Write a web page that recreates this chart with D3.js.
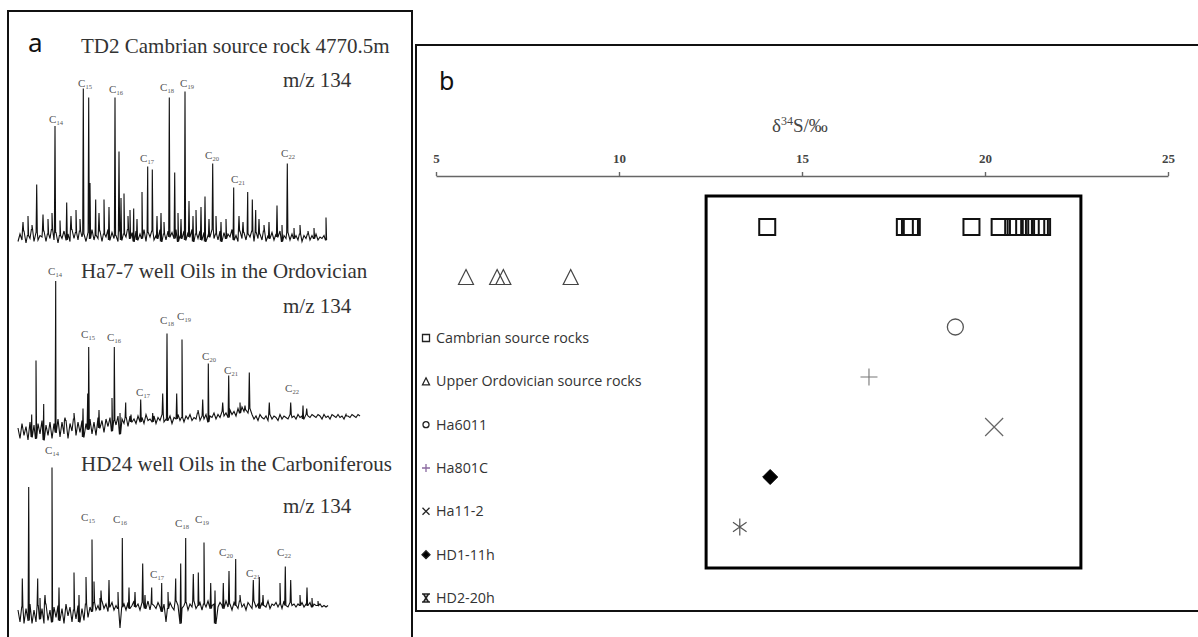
<!DOCTYPE html>
<html>
<head>
<meta charset="utf-8">
<script src="https://cdn.jsdelivr.net/npm/d3@7"></script>
<style>
  body { margin: 0; background: #fff; }
  svg { display: block; }
</style>
</head>
<body>
<script>
// ---------------- panel a : m/z 134 chromatograms ----------------
// peaks: [scan, intensity]  (intensity 100 ~ tallest peak)
var td2Peaks = [[5,14],[10,18],[14,12],[18.7,39],[25,19],[30,16],[34,20],[37,78],[42,15],[48.7,27],[53,18],[58,22],[62,16],
  [65.3,103],[70.7,97],[72,40],[77.7,29],[81,20],[86,29],[91,24],[97,97],[101,61],[103,30],[106,33],[110,18],[112,22],
  [115.7,23],[119,16],[124,34],[129.7,51],[134.3,49],[139,18],[143,20],[146,14],[151.3,97],[156.7,47],[160,20],[163,16],
  [167,101],[171,28],[175,18],[178,22],[183,24],[187,31],[191,16],[194.7,53],[198,18],[203,14],[208,16],[215.7,37],
  [221,18],[225,14],[229.7,34],[234.3,29],[237.7,22],[241,16],[246,12],[251,14],[259,25],[264,12],[269.3,53],[276,10],
  [282,12],[290,8],[296,10],[308,17]];
var td2Noise = [1,6,2,8,0,5,3,9,1,7,2,5,4,8,1,6,3,9,2,7,
  0,5,3,8,2,6,1,9,3,7,2,8,4,6,1,7,3,9,2,5,
  3,8,1,6,4,9,2,7,3,5,1,8,2,6,4,9,3,7,1,8,
  2,6,3,9,1,7,4,8,2,5,3,9,1,6,2,8,4,7,3,9,
  1,5,3,8,2,7,4,9,1,6,3,8,2,7,1,5,4,9,3,6,
  2,8,1,7,3,6,4,9,2,5,1,8,3,7,2,6,4,8,1,7,
  3,6,2,8,1,5,3,7,2,6,4,8,1,5,3,7,2,6,3,5,
  2,6,1,5,3,6,2,5,3,6,2,4,3,5,2];
var td2Labels = [["14",38,83],["15",67,107],["16",98,103],["17",129,57],["18",149,104],["19",169,107],["20",194,59],["21",220,43],["22",270,60]];

var ha77Peaks = [[13.7,9],[18,45],[25.7,16],[37.7,98],[47,7],[56,10],[65,13],[69.7,23],[70.7,54],[81,12],[94,20],[96.3,54],
  [102,10],[107.7,17],[113,9],[122.7,19],[134.7,10],[144.7,23],[149,63],[158.7,23],[164,59],[180,12],[184.7,19],[190.3,43],
  [204.7,17],[210.7,35],[222,17],[227,15],[231.3,37],[251.3,17],[272.7,17],[285,15],[288.7,13],[329,8]];
var ha77Noise = [0,-7,3,-5,1,-8,4,-6,2,-7,3,-4,5,-8,2,-5,4,-7,3,-3,
  6,-6,4,-4,5,-7,3,-2,6,-5,4,-3,5,-6,3,-1,6,-4,4,-5,
  7,0,5,-3,6,1,7,-2,5,2,8,-4,6,3,7,1,8,4,6,3,
  8,4,7,3,9,5,6,4,8,3,7,5,9,4,6,5,8,3,7,6,
  9,5,7,4,8,6,9,5,7,6,10,5,8,6,9,4,8,7,10,6,
  9,7,11,8,10,7,12,9,11,8,13,10,14,11,12,10,13,9,6,8,
  5,9,7,6,8,5,9,6,8,7,5,9,6,8,7,6,9,7,8,6,
  9,7,8,6,9,8,7,9,8,7,9,8,6,9,7,8,6,9,8,7,
  9,7,8,6,9,8,7,9,8,7,9,8];
var ha77Labels = [["14",37,105],["15",70,63],["16",96,61],["17",125,24],["18",149,72],["19",166,75],["20",191,48],["21",213,39],["22",274,27]];

var hd24Peaks = [[4.3,23],[10.7,84],[19.7,23],[22,10],[27,12],[34,97],[41,17],[56,27],[61,12],[68,24],[74,49],[76,21],
  [82,10],[83,15],[91,22],[100,14],[104.3,50],[111,17],[117,14],[124.7,33],[127,12],[133.7,17],[143.7,20],[150,14],
  [157.7,23],[162.7,33],[167.7,50],[175.3,26],[180.3,27],[186,47],[192.7,20],[197,15],[205.3,20],[211,28],[217.7,36],
  [222,12],[235.3,22],[241.3,24],[245,12],[262,20],[267.3,31],[272.7,22],[282,12],[289,17],[294,10],[300,8]];
var hd24Noise = [2,-6,4,-7,3,-5,6,-7,2,-6,5,-4,3,-7,6,-5,2,-6,4,-3,
  5,-5,3,-7,6,-2,4,-6,2,-4,5,-6,3,-5,6,-3,4,1,7,2,
  5,2,8,3,6,1,4,7,2,5,3,-10,4,6,2,7,3,5,8,4,
  6,2,7,4,3,8,2,6,5,3,7,4,1,6,-6,3,7,4,2,8,
  5,-7,3,5,7,2,6,4,8,3,5,7,2,6,4,8,3,5,6,-7,
  4,7,5,3,8,4,6,2,7,5,3,8,4,6,2,7,5,3,8,4,
  6,3,7,5,4,8,3,6,5,7,4,6,3,8,5,4,7,5,6,4,
  6,5,7,4,6,5,7,4,6,5,5,6,4,5,4,5];
var hd24Labels = [["14",34,109],["15",70,64],["16",102,63],["17",139,26],["18",164,60],["19",184,63],["20",208,41],["21",235,27],["22",266,41]];

var traceTitles = ["TD2 Cambrian source rock 4770.5m", "Ha7-7 well Oils in the Ordovician", "HD24 well Oils in the Carboniferous"];
var noiseStep = 2;

// ---------------- panel b : δ34S ----------------
var series = ["Cambrian source rocks", "Upper Ordovician source rocks", "Ha6011", "Ha801C", "Ha11-2", "HD1-11h", "HD2-20h"];
var cambrianD34S = [14.05, 17.81, 17.95, 18.0, 19.63, 20.40, 20.77, 20.90, 21.07, 21.25, 21.40, 21.50, 21.56];
var ordovicianD34S = [5.82, 6.67, 6.84, 8.68];
var ha6011D34S = [19.19];
var ha801cD34S = [16.83];
var ha112D34S = [20.25];
var hd111hD34S = [14.13];
var hd220hD34S = [13.3];
var sTicks = [5, 10, 15, 20, 25];

var W = 1198, H = 637;
var svg = d3.select("body").append("svg").attr("width", W).attr("height", H);

// ======================= panel a =======================
svg.append("rect").attr("x", 8).attr("y", 11).attr("width", 404).attr("height", 660)
  .attr("fill", "none").attr("stroke", "#111").attr("stroke-width", 2);

svg.append("text").attr("x", 28).attr("y", 52).text("a")
  .style("font-family", "'Noto Sans', sans-serif").style("font-size", "26px").attr("fill", "#111");

var scanX = d3.scaleLinear().domain([0, 342]).range([18, 360]);

var traces = [
  { peaks: td2Peaks, noise: td2Noise, labels: td2Labels, base: 243, title: traceTitles[0], titleY: 53, mzY: 87 },
  { peaks: ha77Peaks, noise: ha77Noise, labels: ha77Labels, base: 428, title: traceTitles[1], titleY: 278, mzY: 313 },
  { peaks: hd24Peaks, noise: hd24Noise, labels: hd24Labels, base: 613, title: traceTitles[2], titleY: 471, mzY: 513 }
];

traces.forEach(function (t) {
  var yS = d3.scaleLinear().domain([0, 100]).range([t.base, t.base - 150]);

  var pts = t.noise.map(function (v, i) { return [i * noiseStep, v]; });
  t.peaks.forEach(function (p) {
    var foot = t.noise[Math.min(t.noise.length - 1, Math.round(p[0] / noiseStep))];
    pts.push([p[0] - 0.6, foot], [p[0], p[1]], [p[0] + 0.6, foot]);
  });
  pts.sort(function (a, b) { return a[0] - b[0]; });

  var line = d3.line().x(function (d) { return scanX(d[0]); }).y(function (d) { return yS(d[1]); });

  svg.append("path").attr("d", line(pts))
    .attr("fill", "none").attr("stroke", "#111").attr("stroke-width", 1.1);

  svg.append("text").attr("x", 81).attr("y", t.titleY).text(t.title)
    .style("font-family", "'Liberation Serif', 'Times New Roman', serif").style("font-size", "21px").attr("fill", "#333");
  svg.append("text").attr("x", 283).attr("y", t.mzY).text("m/z 134")
    .style("font-family", "'Liberation Serif', 'Times New Roman', serif").style("font-size", "21px").attr("fill", "#333");

  var lab = svg.append("g").selectAll("text").data(t.labels).enter().append("text")
    .attr("x", function (d) { return scanX(d[1]); })
    .attr("y", function (d) { return yS(d[2]) + 4; })
    .attr("text-anchor", "middle")
    .style("font-family", "'Liberation Serif', serif").style("font-size", "11px").attr("fill", "#555");
  lab.append("tspan").text("C");
  lab.append("tspan").attr("dy", 2).style("font-size", "6.5px").text(function (d) { return d[0]; });
});

// ======================= panel b =======================
svg.append("rect").attr("x", 416).attr("y", 45).attr("width", 820).attr("height", 566)
  .attr("fill", "none").attr("stroke", "#111").attr("stroke-width", 2);

svg.append("text").attr("x", 439).attr("y", 90).text("b")
  .style("font-family", "'Noto Sans', sans-serif").style("font-size", "25px").attr("fill", "#111");

var xS = d3.scaleLinear().domain([5, 25]).range([436, 1168]);
var rowY = d3.scalePoint().domain(series).range([227, 527]);
var legY = d3.scalePoint().domain(series).range([338, 598]);

var ax = svg.append("g").attr("transform", "translate(0,176)")
  .call(d3.axisTop(xS).tickValues(sTicks).tickSize(4).tickSizeOuter(0).tickPadding(9));
ax.select(".domain").attr("stroke", "#666").attr("stroke-width", 1.4);
ax.selectAll(".tick line").attr("stroke", "#666").attr("stroke-width", 1.4);
ax.selectAll(".tick text").attr("fill", "#444")
  .style("font-family", "'Liberation Serif', serif").style("font-size", "13px").style("font-weight", "bold");

var ttl = svg.append("text").attr("x", 772).attr("y", 132)
  .style("font-family", "'Liberation Serif', serif").style("font-size", "19px").attr("fill", "#444");
ttl.append("tspan").text("δ");
ttl.append("tspan").attr("dy", -7).style("font-size", "12px").text("34");
ttl.append("tspan").attr("dy", 7).text("S/‰");

// highlight frame
svg.append("rect")
  .attr("x", xS(12.38)).attr("y", rowY(series[0]) - 31)
  .attr("width", xS(22.62) - xS(12.38)).attr("height", rowY(series[6]) - rowY(series[0]) + 72)
  .attr("fill", "none").attr("stroke", "#000").attr("stroke-width", 3);

// marker shapes
function squarePath(s) { var h = s / 2; return "M" + (-h) + "," + (-h) + "H" + h + "V" + h + "H" + (-h) + "Z"; }
function triPath(s) { var h = s / 2; return "M0," + (-h) + "L" + h + "," + h + "L" + (-h) + "," + h + "Z"; }
function plusPath(s) { var h = s / 2; return "M" + (-h) + ",0H" + h + "M0," + (-h) + "V" + h; }
function crossPath(s) { var h = s / 2; return "M" + (-h) + "," + (-h) + "L" + h + "," + h + "M" + h + "," + (-h) + "L" + (-h) + "," + h; }
function diamondPath(s) { var h = s / 2; return "M0," + (-h) + "L" + h + ",0L0," + h + "L" + (-h) + ",0Z"; }
function starPath(s) { var h = s / 2; return "M0," + (-h) + "V" + h + "M" + (-h * 0.8) + "," + (-h * 0.55) + "L" + (h * 0.8) + "," + (h * 0.55) + "M" + (h * 0.8) + "," + (-h * 0.55) + "L" + (-h * 0.8) + "," + (h * 0.55); }
function circlePath(s) { var r = s / 2; return "M" + r + ",0A" + r + "," + r + " 0 1,1 " + (-r) + ",0A" + r + "," + r + " 0 1,1 " + r + ",0Z"; }
function bowtiePath(s) { var h = s / 2; return "M" + (-h) + "," + (-h) + "H" + h + "M" + (-h) + "," + h + "H" + h + "M" + (-h * 0.6) + "," + (-h) + "L" + (h * 0.6) + "," + h + "M" + (h * 0.6) + "," + (-h) + "L" + (-h * 0.6) + "," + h; }

var groups = [
  { name: series[0], vals: cambrianD34S, shape: squarePath, size: 16, lsize: 7, fill: "none", stroke: "#111", sw: 2 },
  { name: series[1], vals: ordovicianD34S, shape: triPath, size: 15, lsize: 7, fill: "none", stroke: "#444", sw: 1.2 },
  { name: series[2], vals: ha6011D34S, shape: circlePath, size: 16, lsize: 6, fill: "none", stroke: "#555", sw: 1.3 },
  { name: series[3], vals: ha801cD34S, shape: plusPath, size: 17, lsize: 8, fill: "none", stroke: "#777", sw: 1.1, lstroke: "#8a6aa0" },
  { name: series[4], vals: ha112D34S, shape: crossPath, size: 18, lsize: 7, fill: "none", stroke: "#666", sw: 1.2 },
  { name: series[5], vals: hd111hD34S, shape: diamondPath, size: 15, lsize: 8, fill: "#000", stroke: "#000", sw: 1 },
  { name: series[6], vals: hd220hD34S, shape: starPath, size: 17, lsize: 8, fill: "none", stroke: "#555", sw: 1.2, lshape: bowtiePath, lsw: 1.6 }
];

groups.forEach(function (g) {
  svg.append("g").selectAll("path").data(g.vals).enter().append("path")
    .attr("transform", function (d) { return "translate(" + xS(d) + "," + rowY(g.name) + ")"; })
    .attr("d", g.shape(g.size))
    .attr("fill", g.fill).attr("stroke", g.stroke).attr("stroke-width", g.sw);

  var ly = legY(g.name);
  svg.append("path").attr("transform", "translate(426," + ly + ")")
    .attr("d", (g.lshape || g.shape)(g.lsize))
    .attr("fill", g.fill).attr("stroke", g.lstroke || "#222").attr("stroke-width", g.lsw || 1.3);
  svg.append("text").attr("x", 436).attr("y", ly + 5).text(g.name)
    .style("font-family", "'Open Sans', sans-serif").style("font-size", "14.3px").attr("fill", "#333");
});
</script>
</body>
</html>
